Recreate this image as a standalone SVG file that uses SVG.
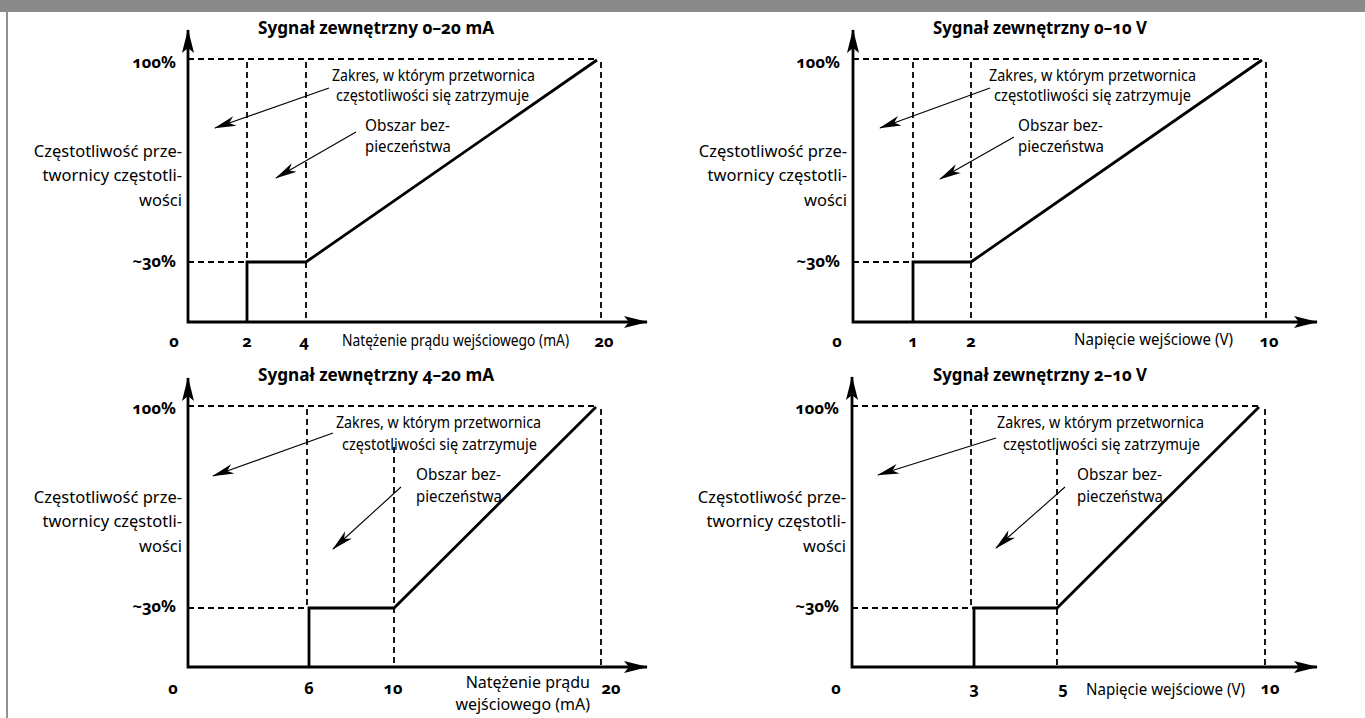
<svg xmlns="http://www.w3.org/2000/svg" width="1365" height="718" viewBox="0 0 1365 718">
<defs>
<style>
.t{font-family:"Noto Sans","Liberation Sans",sans-serif;font-size:16px;fill:#000}
.y{font-size:16.5px}
.b{font-weight:bold;font-variant-numeric:oldstyle-nums;font-size:16.5px}
.ttl{font-weight:bold;font-variant-numeric:oldstyle-nums;font-size:17px}
.ax{stroke:#000;stroke-width:2.8;fill:none;stroke-linejoin:miter;marker-start:url(#axh);marker-end:url(#axh)}
.sol{stroke:#000;stroke-width:2.8;fill:none}
.d{stroke:#000;stroke-width:1.8;stroke-dasharray:6 4;fill:none}
.ar{stroke:#000;stroke-width:1.1;fill:none;marker-end:url(#ah)}
</style>
<marker id="ah" markerUnits="userSpaceOnUse" viewBox="-22 -6 24 12" markerWidth="24" markerHeight="12" refX="0" refY="0" orient="auto"><path d="M-21,-5 L1,0 L-21,5 L-15,0 z" fill="#000"/></marker>
<marker id="axh" markerUnits="userSpaceOnUse" viewBox="-24 -7 26 14" markerWidth="26" markerHeight="14" refX="0" refY="0" orient="auto-start-reverse"><path d="M-23,-6 L1,0 L-23,6 L-18,0 z" fill="#000"/></marker>
</defs>
<rect x="0" y="0" width="1365" height="12" fill="#8a8a8a"/>
<line x1="7" y1="12" x2="7" y2="718" stroke="#222" stroke-width="1"/>

<g id="chart-0-20mA">
<text class="t ttl" x="258" y="34" textLength="236" lengthAdjust="spacingAndGlyphs">Sygnał zewnętrzny 0–20 mA</text>
<path class="d" d="M188,59 H597 M247,62 V262 M306,62 V322 M601,62 V322 M188,262 H247"/>
<path class="sol" d="M247,322 V262 H306 L597,60"/>
<path class="ax" d="M188,30 V322 H647"/>
<text class="t b" x="176" y="68" text-anchor="end">100%</text>
<text class="t b" x="176" y="267" text-anchor="end">~30%</text>
<text class="t y" x="182" y="157" text-anchor="end">Częstotliwość prze-</text>
<text class="t y" x="182" y="181" text-anchor="end">twornicy częstotli-</text>
<text class="t y" x="182" y="206" text-anchor="end">wości</text>
<text class="t" x="332" y="81" textLength="203" lengthAdjust="spacingAndGlyphs">Zakres, w którym przetwornica</text>
<text class="t" x="336" y="101" textLength="193" lengthAdjust="spacingAndGlyphs">częstotliwości się zatrzymuje</text>
<text class="t" x="365" y="131" textLength="85" lengthAdjust="spacingAndGlyphs">Obszar bez-</text>
<text class="t" x="365" y="152" textLength="86" lengthAdjust="spacingAndGlyphs">pieczeństwa</text>
<text class="t" transform="translate(342,346) scale(0.87,1)" x="0" y="0" textLength="261" lengthAdjust="spacingAndGlyphs">Natężenie prądu wejściowego (mA)</text>
<text class="t b" x="174" y="347" text-anchor="middle">0</text>
<text class="t b" x="247" y="347" text-anchor="middle">2</text>
<text class="t b" x="304" y="347" text-anchor="middle">4</text>
<text class="t b" x="604" y="347" text-anchor="middle">20</text>
</g>

<g id="chart-0-10V">
<text class="t ttl" x="933" y="34" textLength="214" lengthAdjust="spacingAndGlyphs">Sygnał zewnętrzny 0–10 V</text>
<path class="d" d="M853,59 H1262 M913,62 V262 M971,62 V322 M1266,62 V322 M853,262 H913"/>
<path class="sol" d="M913,322 V262 H971 L1262,60"/>
<path class="ax" d="M853,30 V322 H1317"/>
<text class="t b" x="840" y="68" text-anchor="end">100%</text>
<text class="t b" x="840" y="267" text-anchor="end">~30%</text>
<text class="t y" x="847" y="157" text-anchor="end">Częstotliwość prze-</text>
<text class="t y" x="847" y="181" text-anchor="end">twornicy częstotli-</text>
<text class="t y" x="847" y="206" text-anchor="end">wości</text>
<text class="t" x="989" y="81" textLength="207" lengthAdjust="spacingAndGlyphs">Zakres, w którym przetwornica</text>
<text class="t" x="994" y="101" textLength="197" lengthAdjust="spacingAndGlyphs">częstotliwości się zatrzymuje</text>
<text class="t" x="1018" y="131" textLength="85" lengthAdjust="spacingAndGlyphs">Obszar bez-</text>
<text class="t" x="1018" y="152" textLength="86" lengthAdjust="spacingAndGlyphs">pieczeństwa</text>
<text class="t" x="1074" y="345" font-size="15" textLength="159" lengthAdjust="spacingAndGlyphs">Napięcie wejściowe (V)</text>
<text class="t b" x="837" y="347" text-anchor="middle">0</text>
<text class="t b" x="913" y="347" text-anchor="middle">1</text>
<text class="t b" x="971" y="347" text-anchor="middle">2</text>
<text class="t b" x="1269" y="347" text-anchor="middle">10</text>
</g>

<g id="chart-4-20mA">
<text class="t ttl" x="258" y="381" textLength="236" lengthAdjust="spacingAndGlyphs">Sygnał zewnętrzny 4–20 mA</text>
<path class="d" d="M188,406 H596 M307,409 V608 M394,447 V667 M601,409 V667 M188,608 H309"/>
<path class="sol" d="M309,667 V608 H394 L596,407"/>
<path class="ax" d="M188,378 V667 H647"/>
<text class="t b" x="176" y="414" text-anchor="end">100%</text>
<text class="t b" x="176" y="612" text-anchor="end">~30%</text>
<text class="t y" x="182" y="503" text-anchor="end">Częstotliwość prze-</text>
<text class="t y" x="182" y="527" text-anchor="end">twornicy częstotli-</text>
<text class="t y" x="182" y="552" text-anchor="end">wości</text>
<text class="t" x="336" y="428" textLength="205" lengthAdjust="spacingAndGlyphs">Zakres, w którym przetwornica</text>
<text class="t" x="342" y="450" textLength="195" lengthAdjust="spacingAndGlyphs">częstotliwości się zatrzymuje</text>
<text class="t" x="416" y="480" textLength="85" lengthAdjust="spacingAndGlyphs">Obszar bez-</text>
<text class="t" x="416" y="502" textLength="86" lengthAdjust="spacingAndGlyphs">pieczeństwa</text>
<text class="t" x="590" y="688" text-anchor="end">Natężenie prądu</text>
<text class="t" x="590" y="710" text-anchor="end">wejściowego (mA)</text>
<text class="t b" x="173" y="694" text-anchor="middle">0</text>
<text class="t b" x="309" y="694" text-anchor="middle">6</text>
<text class="t b" x="393" y="694" text-anchor="middle">10</text>
<text class="t b" x="611" y="694" text-anchor="middle">20</text>
</g>

<g id="chart-2-10V">
<text class="t ttl" x="933" y="381" textLength="214" lengthAdjust="spacingAndGlyphs">Sygnał zewnętrzny 2–10 V</text>
<path class="d" d="M852,406 H1259 M971,409 V608 M1057,449 V667 M1265,409 V667 M852,608 H974"/>
<path class="sol" d="M974,667 V608 H1057 L1259,407"/>
<path class="ax" d="M852,377 V667 H1317"/>
<text class="t b" x="839" y="414" text-anchor="end">100%</text>
<text class="t b" x="839" y="612" text-anchor="end">~30%</text>
<text class="t y" x="846" y="503" text-anchor="end">Częstotliwość prze-</text>
<text class="t y" x="846" y="527" text-anchor="end">twornicy częstotli-</text>
<text class="t y" x="846" y="552" text-anchor="end">wości</text>
<text class="t" x="997" y="428" textLength="207" lengthAdjust="spacingAndGlyphs">Zakres, w którym przetwornica</text>
<text class="t" x="1003" y="450" textLength="197" lengthAdjust="spacingAndGlyphs">częstotliwości się zatrzymuje</text>
<text class="t" x="1077" y="480" textLength="85" lengthAdjust="spacingAndGlyphs">Obszar bez-</text>
<text class="t" x="1077" y="502" textLength="86" lengthAdjust="spacingAndGlyphs">pieczeństwa</text>
<text class="t" x="1086" y="695" font-size="15" textLength="159" lengthAdjust="spacingAndGlyphs">Napięcie wejściowe (V)</text>
<text class="t b" x="836" y="694" text-anchor="middle">0</text>
<text class="t b" x="974" y="694" text-anchor="middle">3</text>
<text class="t b" x="1063" y="694" text-anchor="middle">5</text>
<text class="t b" x="1270" y="694" text-anchor="middle">10</text>
</g>

<g id="connectors">
<line class="ar" x1="329" y1="88" x2="215" y2="128"/>
<line class="ar" x1="356" y1="132" x2="276" y2="178"/>
<line class="ar" x1="990" y1="88" x2="880" y2="128"/>
<line class="ar" x1="1014" y1="137" x2="940" y2="179"/>
<line class="ar" x1="333" y1="433" x2="213" y2="476"/>
<line class="ar" x1="401" y1="487" x2="333" y2="549"/>
<line class="ar" x1="996" y1="438" x2="878" y2="475"/>
<line class="ar" x1="1065" y1="487" x2="996" y2="548"/>
</g>
</svg>
